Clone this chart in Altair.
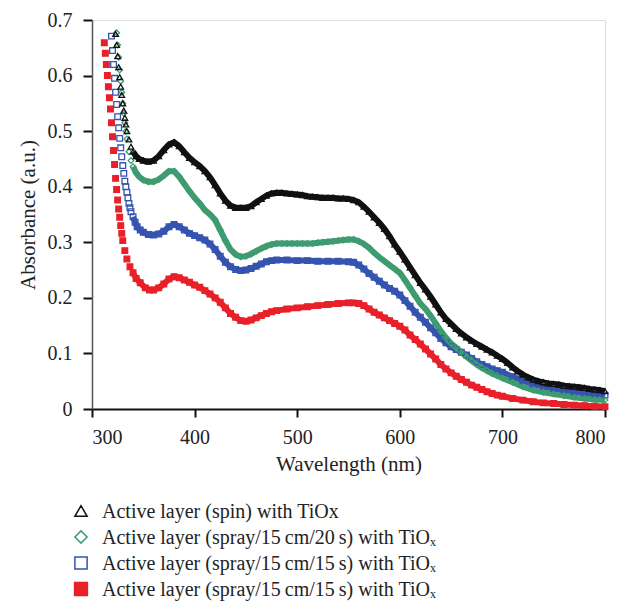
import altair as alt
import pandas as pd

# ---------------- data ----------------
# Active layer (spin) with TiOx  (black, open triangles)
wl_spin = [323, 324, 325, 326, 327, 328, 329, 330, 331, 332, 333, 334, 336, 338, 340, 343, 346,
           350, 355, 360, 365, 370, 375, 380, 385, 390, 395, 400, 405, 410, 415, 420, 425, 430,
           435, 440, 445, 450, 455, 460, 465, 470, 475, 480, 485, 490, 495, 500, 505, 510, 515,
           520, 525, 530, 535, 540, 545, 550, 555, 560, 565, 570, 575, 580, 585, 590, 595, 600,
           605, 610, 615, 620, 625, 630, 635, 640, 645, 650, 655, 660, 665, 670, 675, 680, 685,
           690, 695, 700, 705, 710, 715, 720, 725, 730, 735, 740, 745, 750, 755, 760, 765, 770,
           775, 780, 785, 790, 795, 800]
abs_spin = [0.675, 0.655, 0.635, 0.615, 0.597, 0.580, 0.565, 0.550, 0.537, 0.524, 0.512, 0.500,
            0.485, 0.472, 0.463, 0.455, 0.450, 0.447, 0.445, 0.447, 0.455, 0.466, 0.476, 0.480,
            0.473, 0.462, 0.452, 0.444, 0.437, 0.428, 0.417, 0.403, 0.388, 0.375, 0.366, 0.362,
            0.362, 0.362, 0.365, 0.372, 0.378, 0.384, 0.388, 0.389, 0.389, 0.388, 0.387, 0.386,
            0.385, 0.383, 0.382, 0.381, 0.380, 0.380, 0.380, 0.379, 0.379, 0.378, 0.376, 0.372,
            0.364, 0.355, 0.345, 0.335, 0.324, 0.311, 0.296, 0.283, 0.269, 0.255, 0.241, 0.227,
            0.215, 0.202, 0.188, 0.174, 0.162, 0.153, 0.144, 0.136, 0.129, 0.123, 0.117, 0.112,
            0.107, 0.102, 0.096, 0.090, 0.083, 0.075, 0.068, 0.062, 0.057, 0.053, 0.050, 0.048,
            0.046, 0.045, 0.044, 0.042, 0.041, 0.040, 0.039, 0.038, 0.036, 0.035, 0.034, 0.032]

# Active layer (spray/15 cm/20 s) with TiOx  (green, open diamonds)
wl_s20 = [324, 325, 326, 327, 328, 329, 330, 331, 332, 333, 334, 336, 338, 340, 343, 346, 350,
          355, 360, 365, 370, 375, 380, 385, 390, 395, 400, 405, 410, 415, 420, 425, 430, 435,
          440, 445, 450, 455, 460, 465, 470, 475, 480, 485, 490, 495, 500, 505, 510, 515, 520,
          525, 530, 535, 540, 545, 550, 555, 560, 565, 570, 575, 580, 585, 590, 595, 600, 605,
          610, 615, 620, 625, 630, 635, 640, 645, 650, 655, 660, 665, 670, 675, 680, 685, 690,
          695, 700, 710, 720, 730, 740, 750, 760, 770, 780, 790, 800]
abs_s20 = [0.677, 0.655, 0.633, 0.610, 0.590, 0.570, 0.550, 0.532, 0.515, 0.500, 0.486, 0.463,
           0.447, 0.436, 0.425, 0.418, 0.412, 0.409, 0.409, 0.413, 0.420, 0.428, 0.428, 0.418,
           0.405, 0.392, 0.380, 0.370, 0.358, 0.350, 0.340, 0.322, 0.303, 0.287, 0.278, 0.274,
           0.275, 0.279, 0.284, 0.289, 0.293, 0.296, 0.298, 0.298, 0.298, 0.298, 0.298, 0.298,
           0.298, 0.298, 0.299, 0.300, 0.301, 0.302, 0.303, 0.304, 0.305, 0.305, 0.302, 0.297,
           0.290, 0.281, 0.273, 0.266, 0.259, 0.252, 0.245, 0.232, 0.218, 0.204, 0.190, 0.180,
           0.168, 0.154, 0.140, 0.128, 0.118, 0.110, 0.102, 0.094, 0.087, 0.080, 0.074, 0.069,
           0.064, 0.060, 0.056, 0.048, 0.040, 0.034, 0.030, 0.027, 0.024, 0.021, 0.019, 0.017,
           0.016]

# Active layer (spray/15 cm/15 s) with TiOx  (blue, open squares)
wl_s15 = [319, 320, 321, 322, 323, 324, 325, 326, 327, 328, 329, 330, 331, 332, 333, 334, 335,
          336, 337, 338, 340, 342, 344, 347, 350, 355, 360, 365, 370, 375, 380, 385, 390, 395,
          400, 405, 410, 415, 420, 425, 430, 435, 440, 445, 450, 455, 460, 465, 470, 475, 480,
          490, 500, 510, 520, 530, 540, 550, 555, 560, 565, 570, 575, 580, 585, 590, 595, 600,
          605, 610, 615, 620, 625, 630, 635, 640, 645, 650, 655, 660, 665, 670, 675, 680, 685,
          690, 695, 700, 710, 720, 730, 740, 750, 760, 770, 780, 790, 800]
abs_s15 = [0.671, 0.645, 0.620, 0.595, 0.570, 0.548, 0.526, 0.506, 0.487, 0.470, 0.454, 0.438,
           0.424, 0.410, 0.400, 0.390, 0.380, 0.370, 0.362, 0.355, 0.346, 0.336, 0.328, 0.322,
           0.318, 0.314, 0.313, 0.315, 0.320, 0.328, 0.332, 0.328, 0.322, 0.316, 0.312, 0.308,
           0.304, 0.297, 0.287, 0.275, 0.264, 0.256, 0.251, 0.249, 0.250, 0.253, 0.257, 0.261,
           0.265, 0.267, 0.268, 0.268, 0.267, 0.267, 0.266, 0.266, 0.266, 0.265, 0.264, 0.259,
           0.252, 0.244, 0.237, 0.230, 0.223, 0.217, 0.212, 0.205, 0.195, 0.185, 0.174, 0.165,
           0.156, 0.146, 0.137, 0.127, 0.119, 0.112, 0.107, 0.102, 0.097, 0.091, 0.085, 0.080,
           0.076, 0.072, 0.069, 0.066, 0.058, 0.051, 0.045, 0.041, 0.037, 0.034, 0.031, 0.029,
           0.027, 0.025]

# Active layer (spray/15 cm/15 s) with TiOx  (red, filled squares)
wl_s15b = [312, 313, 314, 315, 316, 317, 318, 319, 320, 321, 322, 323, 324, 325, 326, 327, 328,
           329, 330, 332, 334, 337, 340, 343, 347, 352, 356, 360, 365, 370, 375, 380, 385, 390,
           395, 400, 405, 410, 415, 420, 425, 430, 435, 440, 445, 450, 455, 460, 465, 470, 475,
           480, 490, 500, 510, 520, 530, 540, 550, 555, 560, 565, 570, 575, 580, 585, 590, 595,
           600, 605, 610, 615, 620, 625, 630, 635, 640, 645, 650, 655, 660, 665, 670, 675, 680,
           685, 690, 695, 700, 710, 720, 730, 740, 750, 760, 770, 780, 790, 800]
abs_s15b = [0.659, 0.640, 0.620, 0.600, 0.580, 0.560, 0.540, 0.515, 0.490, 0.465, 0.440, 0.415,
            0.395, 0.376, 0.360, 0.345, 0.330, 0.316, 0.303, 0.285, 0.270, 0.256, 0.245, 0.235,
            0.227, 0.218, 0.214, 0.214, 0.218, 0.225, 0.234, 0.238, 0.236, 0.232, 0.228, 0.223,
            0.219, 0.213, 0.207, 0.200, 0.192, 0.182, 0.172, 0.165, 0.159, 0.158, 0.160, 0.164,
            0.168, 0.172, 0.175, 0.177, 0.180, 0.182, 0.184, 0.186, 0.188, 0.190, 0.191, 0.191,
            0.190, 0.186, 0.180, 0.174, 0.169, 0.164, 0.159, 0.154, 0.149, 0.142, 0.133, 0.125,
            0.117, 0.108, 0.099, 0.090, 0.080, 0.072, 0.065, 0.059, 0.053, 0.048, 0.043, 0.039,
            0.035, 0.031, 0.028, 0.025, 0.023, 0.019, 0.016, 0.013, 0.011, 0.010, 0.008, 0.007,
            0.006, 0.005, 0.004]

series_keys = ["a", "b", "c", "d"]
series_labels = [
    "Active layer (spin) with TiOx",
    "Active layer (spray/15\u2009cm/20\u2009s) with TiO\u2093",
    "Active layer (spray/15\u2009cm/15\u2009s) with TiO\u2093",
    "Active layer (spray/15\u2009cm/15\u2009s) with TiO\u2093",
]
stroke_colors = ["#111111", "#3d9c70", "#3553b0", "#e8202a"]
fill_colors = ["transparent", "transparent", "transparent", "#e8202a"]
shapes = ["triangle-up", "diamond", "square", "square"]

x_ticks = [300, 400, 500, 600, 700, 800]
y_ticks = [0, 0.1, 0.2, 0.3, 0.4, 0.5, 0.6, 0.7]

# ---------------- build table (drawing order: red, blue, green, black) ----------------
rows = []
for key, wls, vals in [("d", wl_s15b, abs_s15b), ("c", wl_s15, abs_s15),
                       ("b", wl_s20, abs_s20), ("a", wl_spin, abs_spin)]:
    for w, v in zip(wls, vals):
        rows.append({"series": key, "wl": w, "absb": v})
df = pd.DataFrame(rows)

FONT = "Liberation Serif"

x_enc = alt.X("wl:Q", scale=alt.Scale(domain=[300, 800], nice=False),
              axis=alt.Axis(values=x_ticks, title="Wavelength (nm)", grid=False,
                            tickSize=8, tickColor="#111", domainColor="#111",
                            domainWidth=2, tickWidth=2, labelFont=FONT,
                            labelFontSize=20, labelColor="#222", labelPadding=10,
                            titleFont=FONT, titleFontSize=21, titleFontWeight="normal",
                            titleColor="#222", titlePadding=6))
y_enc = alt.Y("absb:Q", scale=alt.Scale(domain=[0, 0.7], nice=False),
              axis=alt.Axis(values=y_ticks, title="Absorbance (a.u.)", grid=False,
                            tickSize=9, tickColor="#111", domainColor="#555",
                            domainWidth=1.5, tickWidth=2, labelFont=FONT,
                            labelFontSize=20, labelColor="#222", labelPadding=11,
                            labelExpr="datum.value == 0 ? '0' : format(datum.value, '.1f')",
                            titleFont=FONT, titleFontSize=21, titleFontWeight="normal",
                            titleColor="#222", titlePadding=9))

color_scale = alt.Scale(domain=series_keys, range=stroke_colors)
fill_scale = alt.Scale(domain=series_keys, range=fill_colors)
shape_scale = alt.Scale(domain=series_keys, range=shapes)

base = alt.Chart(df)

lines = base.transform_filter("datum.wl >= 340").mark_line(strokeWidth=6).encode(
    x=x_enc, y=y_enc,
    color=alt.Color("series:N", scale=color_scale, legend=None),
    detail="series:N",
)

points = base.mark_point(size=32, strokeWidth=1.3, opacity=1, fillOpacity=1).encode(
    x=x_enc, y=y_enc,
    stroke=alt.Stroke("series:N", scale=color_scale, legend=None),
    fill=alt.Fill("series:N", scale=fill_scale, legend=None),
    shape=alt.Shape("series:N", scale=shape_scale, legend=None),
)

# ---------------- legend below the plot (drawn as marks, pixel placement) ----------------
legend_rows_y = [491, 517, 543, 569]
legend_sym_x = -11
legend_text_x = 10
legend_sizes = [150, 150, 150, 165]
legend_layers = []
for i in range(4):
    one = pd.DataFrame({"label": [series_labels[i]]})
    sym = alt.Chart(one).mark_point(
        shape=shapes[i], size=legend_sizes[i], strokeWidth=1.5, opacity=1,
        stroke=stroke_colors[i], fill=fill_colors[i], fillOpacity=1,
    ).encode(x=alt.value(legend_sym_x), y=alt.value(legend_rows_y[i]))
    txt = alt.Chart(one).mark_text(
        align="left", baseline="middle", font=FONT, fontSize=20, color="#222",
    ).encode(text="label:N", x=alt.value(legend_text_x), y=alt.value(legend_rows_y[i] + 1))
    legend_layers += [sym, txt]

chart = alt.layer(lines, points, *legend_layers).properties(
    width=513, height=389,
    autosize=alt.AutoSizeParams(type="none"),
    padding={"left": 84, "top": 12, "right": 19, "bottom": 192},
).configure_view(stroke="#555", strokeWidth=1.5).configure(background="white")

chart.save("out.html", embed_options={"renderer": "svg", "actions": False})
